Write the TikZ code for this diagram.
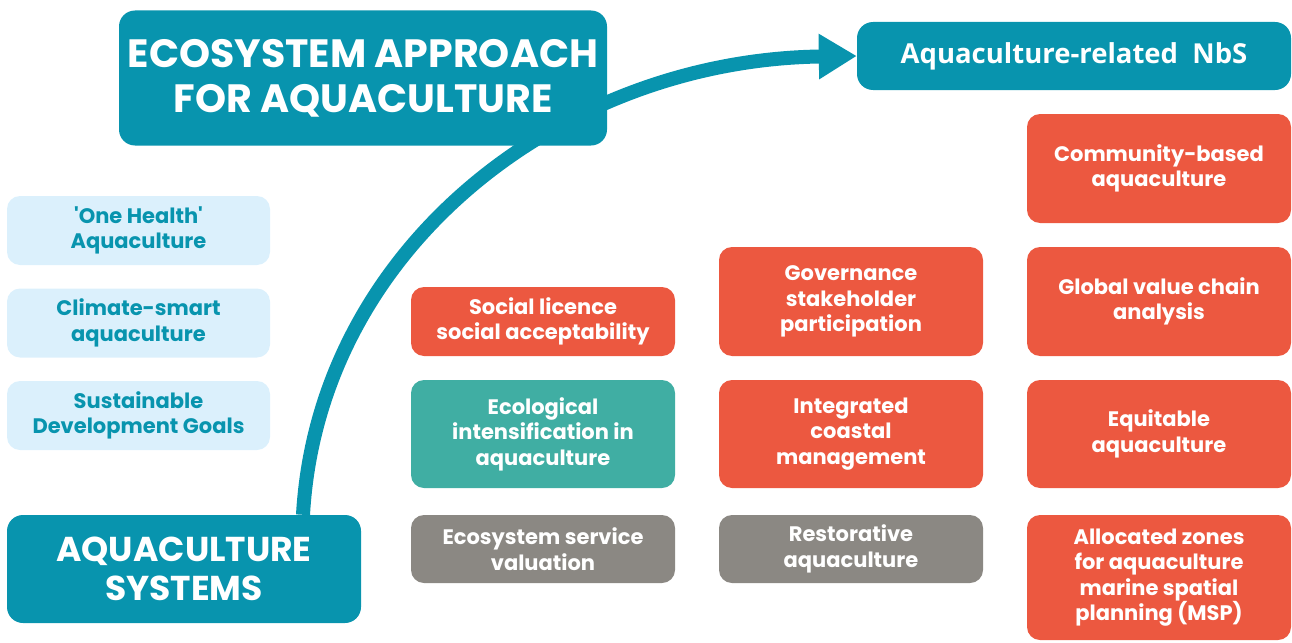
\documentclass[tikz,border=0pt]{standalone}
\usepackage{fontspec}
\setmainfont{Poppins}[Ligatures=TeXOff]
\newfontfamily\nbsfont{Open Sans}
\usetikzlibrary{arrows.meta,backgrounds}
\definecolor{eaateal}{RGB}{8,148,174}
\definecolor{lightbox}{RGB}{219,240,252}
\definecolor{orangebox}{RGB}{236,88,64}
\definecolor{greenbox}{RGB}{64,174,163}
\definecolor{greybox}{RGB}{139,136,131}
\begin{document}
\begin{tikzpicture}[x=1pt,y=-1pt,
  base/.style={rounded corners=13pt, align=center, inner sep=0pt, text=white,
    font=\fontsize{21}{25.5}\selectfont\bfseries},
  lightnode/.style={base, fill=lightbox, text=eaateal, minimum width=263pt, minimum height=69pt},
  cell/.style={base, minimum width=264pt},
  orangenode/.style={cell, fill=orangebox},
  greennode/.style={cell, fill=greenbox},
  greynode/.style={cell, fill=greybox},
  mainnode/.style={base, fill=eaateal, rounded corners=16pt},
  flow/.style={line width=14pt, eaateal, -{Triangle[length=38pt,width=43pt]}}
]
\useasboundingbox (0,0) rectangle (1292,642);

% main boxes
\node[mainnode, minimum width=488pt, minimum height=135pt,
      font=\fontsize{39.5}{45}\selectfont\bfseries] (eaa) at (363,78)
      {ECOSYSTEM APPROACH\\FOR AQUACULTURE};
\node[mainnode, minimum width=434pt, minimum height=68pt,
      font=\nbsfont\fontsize{27.5}{32}\selectfont\bfseries] (nbs) at (1074,56)
      {Aquaculture-related\ \ NbS};
\node[mainnode, minimum width=354pt, minimum height=108pt,
      font=\fontsize{34.5}{39}\selectfont\bfseries] (sys) at (184,569)
      {AQUACULTURE\\SYSTEMS};

% light blue boxes
\node[lightnode] (onehealth) at (138.5,230.5) {'One Health'\\Aquaculture};
\node[lightnode] (climate) at (138.5,323) {Climate-smart\\aquaculture};
\node[lightnode] (sdg) at (138.5,415.5) {Sustainable\\Development Goals};

% column 2
\node[orangenode, minimum height=69pt] (social) at (543,321.5) {Social licence\\social acceptability};
\node[greennode, minimum height=108pt] (ecoint) at (543,434) {Ecological\\intensification in\\aquaculture};
\node[greynode, minimum height=68pt] (esv) at (543,549) {Ecosystem service\\valuation};

% column 3
\node[orangenode, minimum height=109pt] (gov) at (851,301.5) {Governance\\stakeholder\\participation};
\node[orangenode, minimum height=108pt] (icm) at (851,434) {Integrated\\coastal\\management};
\node[greynode, minimum height=68pt] (resto) at (851,549) {Restorative\\aquaculture};

% column 4
\node[orangenode, minimum height=109pt] (community) at (1159,168.5) {Community-based\\aquaculture};
\node[orangenode, minimum height=109pt] (gvc) at (1159,301.5) {Global value chain\\analysis};
\node[orangenode, minimum height=108pt] (equit) at (1159,434) {Equitable\\aquaculture};
\node[orangenode, minimum height=125pt] (alloc) at (1159,577.5) {Allocated zones\\for aquaculture\\marine spatial\\planning (MSP)};

% connector behind the boxes
\begin{scope}[on background layer]
\draw[flow] ([xshift=119pt]sys.north) .. controls +(15,-265) and +(-297,4) .. (nbs.west);
\end{scope}
\end{tikzpicture}
\end{document}
